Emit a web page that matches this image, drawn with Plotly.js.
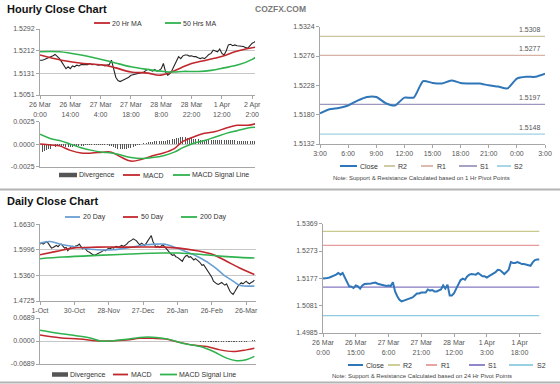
<!DOCTYPE html>
<html><head><meta charset="utf-8">
<script src="https://cdn.plot.ly/plotly-3.0.1.min.js"></script>
<style>html,body{margin:0;padding:0;background:#fff}#chart{width:560px;height:384px}</style>
</head><body><div id="chart"></div>
<script>
// ---------------- DATA ----------------
// Hourly close chart (top-left), hourly index 0..100
const hourlyTickIdx = [0,14,28,42,56,70,84,98];
const hourlyTickLabels = ["26 Mar<br>0:00","26 Mar<br>14:00","27 Mar<br>4:00","27 Mar<br>18:00","28 Mar<br>8:00","28 Mar<br>22:00","1 Apr<br>12:00","2 Apr<br>2:00"];
const hourlyClose = [1.5178,1.5178,1.5181,1.5184,1.5187,1.5191,1.5194,1.5199,1.5191,1.5184,
 1.5172,1.5160,1.5147,1.5154,1.5147,1.5157,1.5154,1.5160,1.5157,1.5162,
 1.5162,1.5160,1.5162,1.5166,1.5162,1.5163,1.5162,1.5160,1.5162,1.5160,
 1.5157,1.5160,1.5162,1.5178,1.5147,1.5116,1.5104,1.5100,1.5104,1.5108,
 1.5110,1.5116,1.5123,1.5125,1.5129,1.5129,1.5131,1.5133,1.5135,1.5141,
 1.5145,1.5141,1.5138,1.5144,1.5138,1.5141,1.5147,1.5166,1.5135,1.5123,
 1.5129,1.5141,1.5160,1.5178,1.5191,1.5184,1.5194,1.5197,1.5197,1.5193,
 1.5194,1.5191,1.5191,1.5187,1.5184,1.5187,1.5184,1.5191,1.5199,1.5203,
 1.5215,1.5212,1.5209,1.5219,1.5203,1.5197,1.5212,1.5234,1.5236,1.5231,
 1.5234,1.5231,1.5230,1.5228,1.5228,1.5224,1.5222,1.5231,1.5240,1.5244,1.5252];
const ma20HrIdx = [0,10,20,30,35,42,50,55,60,65,70,75,80,85,90,95,100];
const ma20HrVal = [1.5197,1.5178,1.5166,1.5160,1.5150,1.5135,1.5131,1.5123,1.5133,1.5150,1.5166,1.5175,1.5184,1.5194,1.5209,1.5219,1.5226];
const ma50HrIdx = [0,9,19,26,34,42,50,57,62,66,73,79,85,92,98,100];
const ma50HrVal = [1.5209,1.5209,1.5197,1.5185,1.5170,1.5154,1.5144,1.5137,1.5135,1.5137,1.5137,1.5141,1.5150,1.5162,1.5181,1.5191];
const hourlyPriceTicks = [1.5051,1.5131,1.5212,1.5292];
const hourlyPriceTickText = ["1.5051","1.5131","1.5212","1.5292"];

// Hourly MACD
const hMacdIdx = [0,5,9,14,19,24,29,33,37,42,47,52,57,62,66,71,76,81,86,91,96,100];
const hMacd    = [0.0000,-0.0001,-0.0002,-0.0007,-0.0010,-0.0010,-0.0009,-0.0009,-0.0014,-0.0019,-0.0017,-0.0013,-0.0010,-0.0005,0.0003,0.0008,0.0012,0.0014,0.0018,0.0021,0.0021,0.0023];
const hSignal  = [0.0011,0.0006,0.0004,0.0000,-0.0004,-0.0007,-0.0009,-0.0010,-0.0012,-0.0015,-0.0016,-0.0015,-0.0013,-0.0009,-0.0004,0.0001,0.0004,0.0008,0.0012,0.0015,0.0018,0.0019];
const hDivergence = [-0.0010,-0.0009,-0.0008,-0.0007,-0.0006,-0.0005,-0.0004,-0.0003,-0.0002,-0.0002,
 -0.0002,-0.0002,-0.0003,-0.0003,-0.0003,-0.0003,-0.0002,-0.0002,-0.0002,-0.0002,
 -0.0002,-0.0001,-0.0001,-0.0001,-0.0001,-0.0001,-0.0001,-0.0001,-0.0001,-0.0001,
 -0.0001,-0.0001,-0.0002,-0.0002,-0.0003,-0.0004,-0.0005,-0.0005,-0.0005,-0.0005,
 -0.0005,-0.0004,-0.0004,-0.0003,-0.0002,-0.0001,-0.0001,0.0000,0.0001,0.0001,
 0.0002,0.0002,0.0002,0.0003,0.0003,0.0003,0.0004,0.0004,0.0004,0.0005,
 0.0005,0.0006,0.0006,0.0007,0.0007,0.0008,0.0008,0.0008,0.0007,0.0007,
 0.0007,0.0006,0.0006,0.0006,0.0005,0.0005,0.0005,0.0005,0.0005,0.0005,
 0.0005,0.0005,0.0005,0.0005,0.0005,0.0005,0.0005,0.0005,0.0005,0.0005,
 0.0005,0.0004,0.0004,0.0004,0.0004,0.0004,0.0004,0.0004,0.0003,0.0003,0.0003];
const hMacdTicks = [0.0025,0,-0.0025];
const hMacdTickText = ["0.0025","0.0000","-0.0025"];

// Hourly pivot chart (top-right)
const pivHours = [0,1,2,3,4,5,6,7,8,9,10,11,12,13,14,15,16,17,18,19,20,21,22,23,24];
const pivClose = [1.5182,1.5189,1.5191,1.5195,1.5203,1.5209,1.5209,1.5199,1.5195,1.5208,1.5208,1.5235,1.5232,1.5231,1.5236,1.5232,1.5231,1.5231,1.5228,1.5226,1.5223,1.5239,1.5242,1.5242,1.5247];
const pivTickHours = [0,3,6,9,12,15,18,21,24];
const pivTickText = ["3:00","6:00","9:00","12:00","15:00","18:00","21:00","0:00","3:00"];
const pivYTicks = [1.5132,1.5180,1.5228,1.5276,1.5324];
const pivYTickText = ["1.5132","1.5180","1.5228","1.5276","1.5324"];
const hourPivots = {R2:1.5308, R1:1.5277, S1:1.5197, S2:1.5148};

// Daily close chart (bottom-left), trading-day index 0..131
const dailyTickIdx = [0,21,42,63,84,105,126];
const dailyTickLabels = ["1-Oct","30-Oct","28-Nov","27-Dec","26-Jan","26-Feb","26-Mar"];
const dailyClose = [1.6137,1.6162,1.6137,1.6170,1.6203,1.6162,1.6080,1.6039,1.6055,1.6080,
 1.6105,1.6072,1.6121,1.6137,1.6080,1.6039,1.6055,1.5973,1.6023,1.6072,
 1.6080,1.6055,1.6096,1.6105,1.6137,1.6072,1.6023,1.6055,1.5998,1.5957,
 1.5940,1.5908,1.5891,1.5858,1.5875,1.5891,1.5916,1.5940,1.5957,1.5990,
 1.5973,1.6006,1.6039,1.6023,1.6055,1.6039,1.6072,1.6080,1.6055,1.6088,
 1.6105,1.6080,1.6105,1.6137,1.6187,1.6203,1.6236,1.6269,1.6244,1.6220,
 1.6162,1.6121,1.6162,1.6137,1.6105,1.6162,1.6220,1.6269,1.6351,1.6203,
 1.6105,1.6055,1.6088,1.6055,1.6088,1.6121,1.6080,1.6039,1.6006,1.5940,
 1.5891,1.5858,1.5875,1.5825,1.5809,1.5776,1.5743,1.5711,1.5793,1.5842,
 1.5858,1.5809,1.5825,1.5776,1.5743,1.5776,1.5752,1.5711,1.5669,1.5612,
 1.5628,1.5563,1.5530,1.5464,1.5366,1.5316,1.5218,1.5177,1.5152,1.5136,
 1.5169,1.5185,1.5152,1.5119,1.5152,1.5037,1.4972,1.4922,1.4890,1.4955,
 1.5037,1.5095,1.5136,1.5177,1.5152,1.5177,1.5218,1.5177,1.5152,1.5185,1.5202,1.5243];
const ma20DayIdx = [0,6,14,24,35,45,55,65,72,76,81,89,98,106,112,118,122,131];
const ma20DayVal = [1.6162,1.6203,1.6121,1.6055,1.5998,1.5998,1.6055,1.6121,1.6137,1.6137,1.6080,1.5957,1.5793,1.5587,1.5382,1.5218,1.5119,1.5095];
const ma50DayIdx = [0,10,20,35,55,75,85,96,106,114,122,131];
const ma50DayVal = [1.5875,1.5957,1.6039,1.6063,1.6063,1.6063,1.6039,1.5973,1.5875,1.5711,1.5546,1.5382];
const ma200DayIdx = [0,14,35,55,75,85,100,112,122,131];
const ma200DayVal = [1.5776,1.5817,1.5858,1.5891,1.5916,1.5916,1.5875,1.5834,1.5809,1.5793];
const dailyPriceTicks = [1.4725,1.5360,1.5996,1.6630];
const dailyPriceTickText = ["1.4725","1.5360","1.5996","1.6630"];

// Daily MACD
const dMacdIdx = [0,12,24,37,43,53,61,69,77,85,93,102,110,118,126,131];
const dMacd    = [0.0177,0.0098,0.0059,0.0000,0.0000,0.0030,0.0079,0.0079,0.0059,-0.0039,-0.0118,-0.0167,-0.0266,-0.0315,-0.0266,-0.0216];
const dSignalIdx = [0,12,22,30,37,43,53,61,71,79,87,98,106,114,120,126,131];
const dSignal    = [0.0325,0.0226,0.0157,0.0098,0.0000,0.0000,0.0049,0.0108,0.0108,0.0049,-0.0069,-0.0167,-0.0315,-0.0512,-0.0590,-0.0561,-0.0462];
const dDivIdx = [98,99,100,101,102,103,104,105,106,107,108,109,110,111,112,113,114,115,116,117,118,119,120,121,122,123,124,125,126,127,128,129,130,131];
const dDivergence = [-0.002,-0.002,-0.003,-0.003,-0.003,-0.003,-0.004,-0.004,-0.004,-0.004,-0.004,-0.004,-0.004,-0.004,-0.004,-0.004,-0.004,-0.004,-0.004,-0.004,-0.004,-0.004,-0.003,-0.003,-0.003,-0.003,-0.002,-0.002,-0.002,-0.001,-0.001,0.001,0.002,0.003];
const dMacdTicks = [0.0689,0,-0.0689];
const dMacdTickText = ["0.0689","0.0000","-0.0689"];

// 24 Hr pivot chart (bottom-right), hourly index 0..99
const piv24TickIdx = [0,15,30,45,60,75,90];
const piv24TickText = ["26 Mar<br>0:00","26 Mar<br>15:00","27 Mar<br>6:00","27 Mar<br>21:00","28 Mar<br>12:00","1 Apr<br>3:00","1 Apr<br>18:00"];
const piv24Close = [1.5176,1.5176,1.5178,1.5180,1.5183,1.5185,1.5190,1.5196,1.5190,1.5196,
 1.5180,1.5169,1.5149,1.5148,1.5143,1.5152,1.5149,1.5141,1.5152,1.5157,
 1.5157,1.5158,1.5159,1.5161,1.5162,1.5158,1.5156,1.5154,1.5151,1.5150,
 1.5152,1.5150,1.5163,1.5131,1.5114,1.5102,1.5096,1.5099,1.5101,1.5103,
 1.5106,1.5110,1.5117,1.5124,1.5124,1.5127,1.5127,1.5127,1.5138,1.5134,
 1.5136,1.5131,1.5131,1.5134,1.5138,1.5152,1.5141,1.5155,1.5117,1.5117,
 1.5125,1.5141,1.5157,1.5171,1.5176,1.5172,1.5184,1.5190,1.5192,1.5190,
 1.5190,1.5196,1.5190,1.5184,1.5184,1.5180,1.5185,1.5190,1.5192,1.5199,
 1.5207,1.5206,1.5199,1.5192,1.5199,1.5207,1.5234,1.5231,1.5231,1.5234,
 1.5231,1.5227,1.5227,1.5225,1.5225,1.5221,1.5233,1.5241,1.5243,1.5243];
const piv24YTicks = [1.4985,1.5081,1.5177,1.5273,1.5369];
const piv24YTickText = ["1.4985","1.5081","1.5177","1.5273","1.5369"];
const dayPivots = {R2:1.5342, R1:1.5293, S1:1.5146, S2:1.5046};

// ---------------- STYLE / LAYOUT ----------------
const W=560,H=384;
const FONT='"Liberation Sans", Arial, sans-serif';
const px=x=>x/W, py=y=>1-y/H;
const RED='#c1272d', GREEN='#2fb34f', BLUE20='#6a9fd4', CLOSEBLUE='#2f76b8', PRICE='#262626', DIV='#555555';
const pivColTop = {R2:'#cbc4a0', R1:'#d7b3a6', S1:'#9f97bb', S2:'#9fd2e2'};
const pivColBot = {R2:'#c9c98f', R1:'#e69a9a', S1:'#8579c2', S2:'#8fcbe0'};
const tickFont = {family:FONT,size:7,color:'#555'};
const idx = n => Array.from({length:n},(_,i)=>i);

const traces = [];
// top-left price
traces.push({x:idx(hourlyClose.length),y:hourlyClose,xaxis:'x',yaxis:'y',type:'scatter',mode:'lines',line:{color:PRICE,width:1.1},hoverinfo:'skip'});
traces.push({x:ma20HrIdx,y:ma20HrVal,xaxis:'x',yaxis:'y',type:'scatter',mode:'lines',line:{color:RED,width:1.6,shape:'spline'}});
traces.push({x:ma50HrIdx,y:ma50HrVal,xaxis:'x',yaxis:'y',type:'scatter',mode:'lines',line:{color:GREEN,width:1.6,shape:'spline'}});
// top-left MACD
traces.push({x:idx(hDivergence.length),y:hDivergence,xaxis:'x2',yaxis:'y2',type:'bar',width:0.45,marker:{color:DIV,line:{width:0}}});
traces.push({x:hMacdIdx,y:hMacd,xaxis:'x2',yaxis:'y2',type:'scatter',mode:'lines',line:{color:RED,width:1.5,shape:'spline'}});
traces.push({x:hMacdIdx,y:hSignal,xaxis:'x2',yaxis:'y2',type:'scatter',mode:'lines',line:{color:GREEN,width:1.5,shape:'spline'}});
// top-right pivots
for (const k of ['R2','R1','S1','S2']) {
  traces.push({x:[pivHours[0],pivHours[pivHours.length-1]],y:[hourPivots[k],hourPivots[k]],xaxis:'x3',yaxis:'y3',type:'scatter',mode:'lines',line:{color:pivColTop[k],width:1.2}});
}
traces.push({x:pivHours,y:pivClose,xaxis:'x3',yaxis:'y3',type:'scatter',mode:'lines',line:{color:CLOSEBLUE,width:2,shape:'spline',smoothing:0.6}});
// bottom-left daily
traces.push({x:idx(dailyClose.length),y:dailyClose,xaxis:'x4',yaxis:'y4',type:'scatter',mode:'lines',line:{color:PRICE,width:1.1}});
traces.push({x:ma20DayIdx,y:ma20DayVal,xaxis:'x4',yaxis:'y4',type:'scatter',mode:'lines',line:{color:BLUE20,width:1.6,shape:'spline'}});
traces.push({x:ma50DayIdx,y:ma50DayVal,xaxis:'x4',yaxis:'y4',type:'scatter',mode:'lines',line:{color:RED,width:1.6,shape:'spline'}});
traces.push({x:ma200DayIdx,y:ma200DayVal,xaxis:'x4',yaxis:'y4',type:'scatter',mode:'lines',line:{color:GREEN,width:1.6,shape:'spline'}});
// bottom-left MACD
traces.push({x:dDivIdx,y:dDivergence,xaxis:'x5',yaxis:'y5',type:'bar',width:0.5,marker:{color:DIV,line:{width:0}}});
traces.push({x:dMacdIdx,y:dMacd,xaxis:'x5',yaxis:'y5',type:'scatter',mode:'lines',line:{color:RED,width:1.5,shape:'spline'}});
traces.push({x:dSignalIdx,y:dSignal,xaxis:'x5',yaxis:'y5',type:'scatter',mode:'lines',line:{color:GREEN,width:1.5,shape:'spline'}});
// bottom-right pivots
for (const k of ['R2','R1','S1','S2']) {
  traces.push({x:[0,piv24Close.length-1],y:[dayPivots[k],dayPivots[k]],xaxis:'x6',yaxis:'y6',type:'scatter',mode:'lines',line:{color:pivColBot[k],width:1.2}});
}
traces.push({x:idx(piv24Close.length),y:piv24Close,xaxis:'x6',yaxis:'y6',type:'scatter',mode:'lines',line:{color:CLOSEBLUE,width:2}});

traces.forEach(t=>{t.showlegend=false; t.hoverinfo='skip';});

function xax(dom, anchor, range, tv, tt, showLabels){
  return {domain:dom, anchor, range, tickvals:tv, ticktext:tt, showticklabels:showLabels,
    showline:true, linecolor:'#a6a6a6', linewidth:1, ticks: showLabels?'outside':'', ticklen:3, tickcolor:'#a6a6a6',
    tickfont:tickFont, showgrid:false, zeroline:false, fixedrange:true, tickangle:0};
}
function yax(dom, anchor, range, tv, tt, grid){
  return {domain:dom, anchor, range, tickvals:tv, ticktext:tt, showline:true, linecolor:'#a6a6a6', linewidth:1,
    ticks:'outside', ticklen:3, tickcolor:'#a6a6a6', tickfont:tickFont, showgrid:grid, gridcolor:'#c6c6c6', gridwidth:1,
    zeroline:false, fixedrange:true};
}

const layout = {
  width:W, height:H, margin:{l:0,r:0,t:0,b:0}, paper_bgcolor:'#fff', plot_bgcolor:'#fff',
  font:{family:FONT,size:7,color:'#444'}, showlegend:false, bargap:0,
  xaxis: xax([px(40),px(255)],'y',[0,99.3],hourlyTickIdx,hourlyTickLabels,true),
  yaxis: yax([py(95),py(29)],'x',[1.5051,1.5292],hourlyPriceTicks,hourlyPriceTickText,true),
  xaxis2: xax([px(40),px(255)],'y2',[0,99.3],hourlyTickIdx,hourlyTickLabels,false),
  yaxis2: yax([py(166.5),py(121.7)],'x2',[-0.0025,0.0025],hMacdTicks,hMacdTickText,true),
  xaxis3: xax([px(320),px(545)],'y3',[0,24],pivTickHours,pivTickText,true),
  yaxis3: yax([py(144),py(26.7)],'x3',[1.5132,1.5324],pivYTicks,pivYTickText,false),
  xaxis4: xax([px(40),px(256)],'y4',[0,132],dailyTickIdx,dailyTickLabels,true),
  yaxis4: yax([py(301),py(224.3)],'x4',[1.4725,1.6630],dailyPriceTicks,dailyPriceTickText,true),
  xaxis5: xax([px(40),px(256)],'y5',[0,132],dailyTickIdx,dailyTickLabels,false),
  yaxis5: yax([py(364),py(318)],'x5',[-0.0689,0.0689],dMacdTicks,dMacdTickText,true),
  xaxis6: xax([px(323),px(541)],'y6',[0,99.8],piv24TickIdx,piv24TickText,true),
  yaxis6: yax([py(333),py(223.7)],'x6',[1.4985,1.5369],piv24YTicks,piv24YTickText,false),
  shapes:[], annotations:[]
};

// separators
layout.shapes.push({type:'line',xref:'paper',yref:'paper',x0:0,x1:1,y0:py(189.5),y1:py(189.5),line:{color:'#b4b4b4',width:2}});
layout.shapes.push({type:'line',xref:'paper',yref:'paper',x0:0,x1:1,y0:py(382.5),y1:py(382.5),line:{color:'#b4b4b4',width:2}});

function txt(x,y,text,opt){
  layout.annotations.push(Object.assign({xref:'paper',yref:'paper',x:px(x),y:py(y),text,showarrow:false,
    xanchor:'left',yanchor:'middle',font:{family:FONT,size:7,color:'#333'},borderpad:0},opt||{}));
}
// titles
txt(6,9,'<b>Hourly Close Chart</b>',{font:{family:FONT,size:11,color:'#111'}});
txt(280,9,'<b>COZFX.COM</b>',{xanchor:'center',font:{family:FONT,size:8.5,color:'#7a7a7a'}});
txt(6,201,'<b>Daily Close Chart</b>',{font:{family:FONT,size:11,color:'#111'}});

// legends (sample line + label)
function legendRow(y, items){
  items.forEach(it=>{
    layout.shapes.push({type:'line',xref:'paper',yref:'paper',x0:px(it.a),x1:px(it.b),y0:py(y),y1:py(y),line:{color:it.c,width:it.w||1.8}});
    txt(it.t,y,it.label);
  });
}
legendRow(23,[{a:94,b:110,c:RED,t:111,label:'20 Hr MA'},{a:165,b:181,c:GREEN,t:182,label:'50 Hrs MA'}]);
legendRow(175,[{a:59,b:77,c:DIV,w:4.5,t:78,label:'Divergence'},{a:123,b:140,c:RED,t:142,label:'MACD'},{a:173,b:190,c:GREEN,t:191,label:'MACD Signal Line'}]);
legendRow(166,[{a:340,b:357,c:CLOSEBLUE,w:2,t:359,label:'Close'},{a:384,b:395,c:pivColTop.R2,t:397,label:'R2'},{a:421,b:433,c:pivColTop.R1,t:436,label:'R1'},{a:459,b:477,c:pivColTop.S1,t:479,label:'S1'},{a:497,b:511,c:pivColTop.S2,t:513,label:'S2'}]);
legendRow(217,[{a:65,b:80,c:BLUE20,t:82,label:'20 Day'},{a:123,b:138,c:RED,t:140,label:'50 Day'},{a:181,b:197,c:GREEN,t:199,label:'200 Day'}]);
legendRow(374.5,[{a:52,b:68,c:DIV,w:4.5,t:69,label:'Divergence'},{a:113,b:128,c:RED,t:130,label:'MACD'},{a:160,b:177,c:GREEN,t:178,label:'MACD Signal Line'}]);
legendRow(365,[{a:348,b:363,c:CLOSEBLUE,w:2,t:365,label:'Close'},{a:388,b:400,c:pivColBot.R2,t:402,label:'R2'},{a:426,b:437,c:pivColBot.R1,t:440,label:'R1'},{a:469,b:485,c:pivColBot.S1,t:487,label:'S1'},{a:509,b:533,c:pivColBot.S2,t:536,label:'S2'}]);

// notes
txt(421,178,'Note: Support &amp; Resistance Calculated based on 1 Hr Pivot Points',{xanchor:'center',font:{family:FONT,size:6,color:'#444'}});
txt(422,375.5,'Note: Support &amp; Resistance Calculated based on 24 Hr Pivot Points',{xanchor:'center',font:{family:FONT,size:6,color:'#444'}});

// pivot value labels (top-right)
for (const k of ['R2','R1','S1','S2']) {
  layout.annotations.push({xref:'x3',yref:'y3',x:pivHours[pivHours.length-1],y:hourPivots[k],text:hourPivots[k].toFixed(4),
    showarrow:false,xanchor:'right',yanchor:'bottom',xshift:-2,yshift:1,font:{family:FONT,size:7,color:'#555'}});
}

Plotly.newPlot('chart',traces,layout,{staticPlot:true,displayModeBar:false});
</script></body></html>
